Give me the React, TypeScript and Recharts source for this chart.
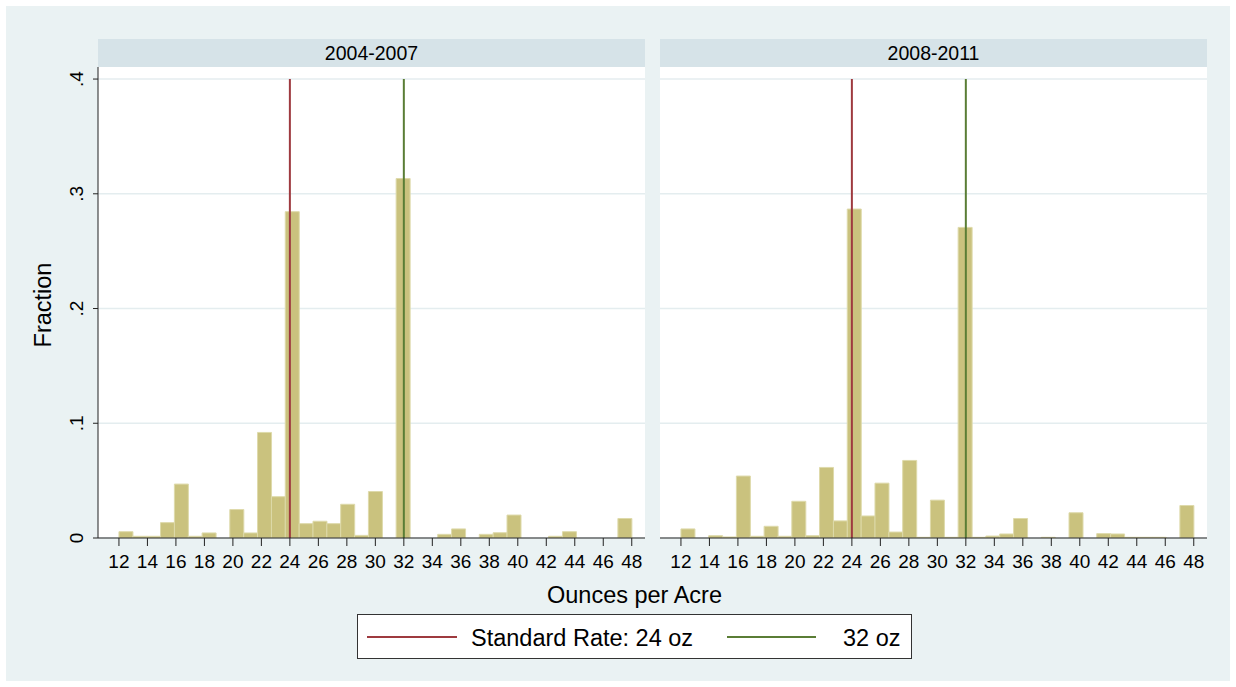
import { BarChart, Bar, XAxis, YAxis, CartesianGrid, ReferenceLine } from 'recharts'

// Stata-style histogram: 37 bins of equal width between 12 and 48 oz
const binStart = 12
const binEnd = 48
const binCount = 37

const xTicks = [12, 14, 16, 18, 20, 22, 24, 26, 28, 30, 32, 34, 36, 38, 40, 42, 44, 46, 48]
const yTicks = [0, 0.1, 0.2, 0.3, 0.4]

// fraction of fields per bin
const fraction2004to2007 = [
  0.0055, 0.0015, 0.0015, 0.0134, 0.047, 0.0015, 0.0044, 0, 0.0248, 0.0044,
  0.092, 0.036, 0.2844, 0.0125, 0.0146, 0.0125, 0.0294, 0.0023, 0.0405, 0,
  0.3133, 0, 0, 0.0032, 0.0079, 0, 0.0032, 0.0046, 0.02, 0,
  0, 0.0015, 0.0055, 0, 0, 0, 0.017,
]
const fraction2008to2011 = [
  0.0079, 0, 0.002, 0.0009, 0.054, 0.0015, 0.0102, 0.0015, 0.032, 0.002,
  0.0615, 0.0149, 0.2867, 0.0192, 0.0478, 0.0052, 0.0676, 0.0006, 0.033, 0.0006,
  0.2707, 0.0006, 0.0017, 0.0035, 0.017, 0, 0.0006, 0, 0.022, 0,
  0.0038, 0.0035, 0.0006, 0.0006, 0.0006, 0, 0.0283,
]

const panelTitles = ['2004-2007', '2008-2011']
const standardRate = 24
const highRate = 32
const legendLabels = ['Standard Rate: 24 oz', '32 oz']

const FONT = '"Liberation Sans", Arial, Helvetica, sans-serif'
const BG = '#EAF2F3'
const STRIP = '#D6E3E8'
const GRID = '#E4EDEF'
const BAR_FILL = '#CAC27E'
const BAR_EDGE = '#DEDAAB'
const RED = '#9E3A3F'
const GREEN = '#5A7D35'
const AXIS = '#222'

const xDomain = [10.53, 48.93]
const yDomain = [0, 0.4105]

function toBins(values: number[]) {
  const w = (binEnd - binStart) / binCount
  return values.map((v, i) => ({ mid: binStart + (i + 0.5) * w, frac: v }))
}

function fmtFrac(v: number) {
  return v === 0 ? '0' : String(v).replace(/^0/, '')
}

function YTick(props: any) {
  const { x, y, payload } = props
  const bx = x - 8
  return (
    <text
      x={bx}
      y={y}
      transform={`rotate(-90, ${bx}, ${y})`}
      textAnchor="middle"
      fontSize={19}
      fontFamily={FONT}
      fill="#000"
    >
      {fmtFrac(payload.value)}
    </text>
  )
}

function Panel({ values, left, width, rightMargin, showY }: any) {
  const data = toBins(values)
  return (
    <div style={{ position: 'absolute', left, top: 60 }}>
      <BarChart
        width={width}
        height={560}
        data={data}
        margin={{ top: 7, right: rightMargin, left: 0, bottom: 0 }}
        barCategoryGap={0}
        barGap={0}
      >
        <CartesianGrid
          vertical={false}
          horizontalValues={yTicks}
          stroke={GRID}
          strokeWidth={1.5}
          fill="#fff"
          fillOpacity={1}
        />
        <XAxis
          type="number"
          dataKey="mid"
          domain={xDomain}
          allowDataOverflow
          ticks={xTicks}
          interval={0}
          height={82}
          tickSize={8}
          tickMargin={9}
          stroke={AXIS}
          tick={{ fontSize: 19, fill: '#000', fontFamily: FONT }}
        />
        <YAxis
          hide={!showY}
          type="number"
          domain={yDomain}
          allowDataOverflow
          ticks={yTicks}
          interval={0}
          width={98}
          tickSize={5}
          stroke={AXIS}
          tick={<YTick />}
        />
        <Bar
          dataKey="frac"
          fill={BAR_FILL}
          stroke={BAR_EDGE}
          strokeWidth={1}
          isAnimationActive={false}
        />
        <ReferenceLine
          segment={[{ x: standardRate, y: 0 }, { x: standardRate, y: 0.4 }]}
          stroke={RED}
          strokeWidth={2}
        />
        <ReferenceLine
          segment={[{ x: highRate, y: 0 }, { x: highRate, y: 0.4 }]}
          stroke={GREEN}
          strokeWidth={2}
        />
      </BarChart>
    </div>
  )
}

export default function App() {
  return (
    <div
      style={{
        position: 'absolute',
        left: 0,
        top: 0,
        width: 1236,
        height: 687,
        background: '#fff',
        fontFamily: FONT,
        overflow: 'hidden',
      }}
    >
      <svg width={1236} height={687} style={{ position: 'absolute', left: 0, top: 0 }}>
        <rect x={6} y={6} width={1224} height={675} fill={BG} />
        <rect x={98} y={39} width={547} height={28} fill={STRIP} />
        <rect x={660} y={39} width={547} height={28} fill={STRIP} />
        <text x={371.5} y={60} textAnchor="middle" fontSize={19.5} fontFamily={FONT} fill="#000">
          {panelTitles[0]}
        </text>
        <text x={933.5} y={60} textAnchor="middle" fontSize={19.5} fontFamily={FONT} fill="#000">
          {panelTitles[1]}
        </text>
        <text
          x={51}
          y={305}
          transform="rotate(-90, 51, 305)"
          textAnchor="middle"
          fontSize={23.5}
          fontFamily={FONT}
          fill="#000"
        >
          Fraction
        </text>
        <text x={634.5} y={603} textAnchor="middle" fontSize={23.5} fontFamily={FONT} fill="#000">
          Ounces per Acre
        </text>
        <rect x={357.5} y={614.5} width={554} height={44} fill="#fff" stroke="#333" strokeWidth={1} />
        <line x1={367} x2={457} y1={637} y2={637} stroke={RED} strokeWidth={2} />
        <text x={471} y={646} fontSize={23.5} fontFamily={FONT} fill="#000">
          {legendLabels[0]}
        </text>
        <line x1={727} x2={816} y1={637} y2={637} stroke={GREEN} strokeWidth={2} />
        <text x={843} y={646} fontSize={23.5} fontFamily={FONT} fill="#000">
          {legendLabels[1]}
        </text>
      </svg>
      <Panel values={fraction2004to2007} left={0} width={660} rightMargin={15} showY />
      <Panel values={fraction2008to2011} left={660} width={576} rightMargin={29} showY={false} />
    </div>
  )
}
